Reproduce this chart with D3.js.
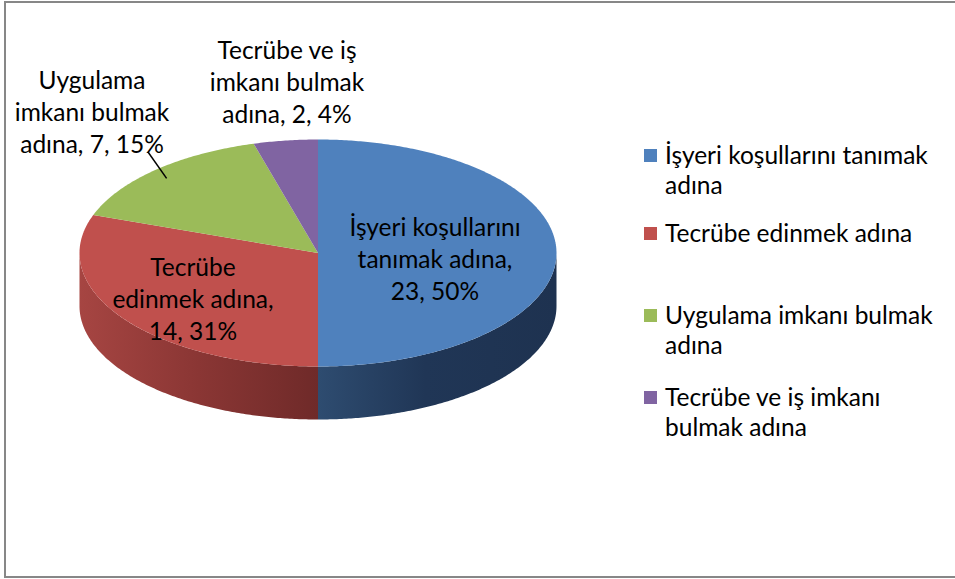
<!DOCTYPE html>
<html>
<head>
<meta charset="utf-8">
<script src="https://cdn.jsdelivr.net/npm/d3@7"></script>
<style>
  body { margin: 0; background: #fff; }
  text { font-family: Lato, "Open Sans", sans-serif; fill: #000; }
</style>
</head>
<body>
<script>
// data
let categories = ['İşyeri koşullarını tanımak adına', 'Tecrübe edinmek adına', 'Uygulama imkanı bulmak adına', 'Tecrübe ve iş imkanı bulmak adına']
let counts = [23, 14, 7, 2]
let percents = ['50%', '31%', '15%', '4%']
let legendLines = [['İşyeri koşullarını tanımak', 'adına'], ['Tecrübe edinmek adına'], ['Uygulama imkanı bulmak', 'adına'], ['Tecrübe ve iş imkanı', 'bulmak adına']]
let labelLines = [['İşyeri koşullarını', 'tanımak adına,', '23, 50%'], ['Tecrübe', 'edinmek adına,', '14, 31%'], ['Uygulama', 'imkanı bulmak', 'adına, 7, 15%'], ['Tecrübe ve iş', 'imkanı bulmak', 'adına, 2, 4%']]

let colors = ['#4f81bd', '#c0504d', '#9bbb59', '#8064a2']
let sideStops = [
  [['#2e4c70', 0], ['#203656', 0.45], ['#1e3250', 1]],
  [['#a64542', 0], ['#8a3634', 0.5], ['#6f2a29', 1]]
]

let width = 955, height = 579
let cx = 318, cy = 253, rx = 238.5, ry = 113.5, depth = 53
let fontSize = 24.5

// label layout (centre x, first line y)
let labelPos = [[435, 236], [193, 276], [92, 89], [287, 59]]
let lineH = 32

let svg = d3.select('body').append('svg')
  .attr('width', width)
  .attr('height', height)

svg.append('rect')
  .attr('x', 5).attr('y', 2)
  .attr('width', 970).attr('height', 575)
  .attr('fill', '#fff')
  .attr('stroke', '#878787')
  .attr('stroke-width', 2)

let pie = d3.pie().sort(null).startAngle(0).endAngle(2 * Math.PI)
let arcs = pie(counts)

let ex = (a) => cx + rx * Math.sin(a)
let ey = (a) => cy - ry * Math.cos(a)

function arcPoints(a0, a1, dy) {
  let n = Math.max(2, Math.ceil((a1 - a0) / 0.01))
  return d3.range(n + 1).map((i) => {
    let a = a0 + (a1 - a0) * i / n
    return [ex(a), ey(a) + dy]
  })
}

let line = d3.line()
let defs = svg.append('defs')

// side walls (front half only)
let sides = svg.append('g').attr('class', 'sides')
arcs.forEach((d, i) => {
  let s = Math.max(d.startAngle, Math.PI / 2)
  let e = Math.min(d.endAngle, 3 * Math.PI / 2)
  if (e <= s) return
  let x0 = Math.min(ex(s), ex(e)), x1 = Math.max(ex(s), ex(e))
  let grad = defs.append('linearGradient')
    .attr('id', 'side' + i)
    .attr('gradientUnits', 'userSpaceOnUse')
    .attr('x1', x0).attr('x2', x1)
    .attr('y1', 0).attr('y2', 0)
  let stops = sideStops[i] || [[d3.color(colors[i]).darker(1), 0], [d3.color(colors[i]).darker(1.6), 1]]
  stops.forEach((st) => grad.append('stop').attr('offset', st[1]).attr('stop-color', st[0]))
  let pts = arcPoints(s, e, 0).concat(arcPoints(s, e, depth).reverse())
  sides.append('path')
    .attr('d', line(pts) + 'Z')
    .attr('fill', 'url(#side' + i + ')')
})

// top faces
let tops = svg.append('g').attr('class', 'tops')
arcs.forEach((d, i) => {
  let pts = [[cx, cy]].concat(arcPoints(d.startAngle, d.endAngle, 0))
  tops.append('path')
    .attr('d', line(pts) + 'Z')
    .attr('fill', colors[i])
})

// leader line for the green slice
let g = arcs[2]
let gm = (g.startAngle + g.endAngle) / 2
svg.append('line')
  .attr('x1', 148).attr('y1', 152)
  .attr('x2', cx + (ex(gm) - cx) * 0.93).attr('y2', cy + (ey(gm) - cy) * 0.9)
  .attr('stroke', '#000')
  .attr('stroke-width', 1.5)

// data labels
labelLines.forEach((lines, i) => {
  let t = svg.append('text')
    .attr('text-anchor', 'middle')
    .attr('font-size', fontSize)
  lines.forEach((l, j) => {
    t.append('tspan')
      .attr('x', labelPos[i][0])
      .attr('y', labelPos[i][1] + j * lineH)
      .text(l)
  })
})

// legend
let legendY = [164, 242, 324, 406]
let legend = svg.append('g').attr('class', 'legend')
categories.forEach((c, i) => {
  legend.append('rect')
    .attr('x', 644).attr('y', legendY[i] - 15)
    .attr('width', 13).attr('height', 13)
    .attr('fill', colors[i])
  let t = legend.append('text').attr('font-size', fontSize)
  legendLines[i].forEach((l, j) => {
    t.append('tspan')
      .attr('x', 665)
      .attr('y', legendY[i] + j * 30)
      .text(l)
  })
})
</script>
</body>
</html>
